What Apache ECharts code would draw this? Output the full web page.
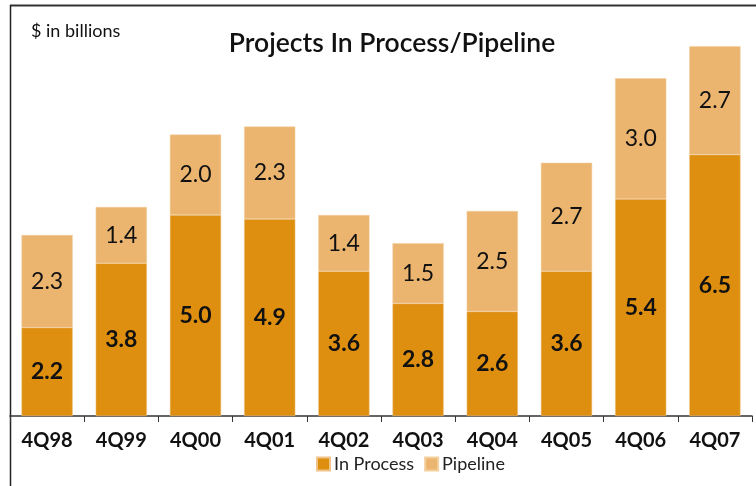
<!DOCTYPE html>
<html>
<head>
<meta charset="utf-8">
<script src="https://cdn.jsdelivr.net/npm/echarts@6/dist/echarts.min.js"></script>
<style>
  html, body { margin: 0; padding: 0; background: #fff; }
  #chart { width: 756px; height: 486px; }
</style>
</head>
<body>
<div id="chart"></div>
<script>
// Quarter labels along the x axis
const quarters = ['4Q98', '4Q99', '4Q00', '4Q01', '4Q02', '4Q03', '4Q04', '4Q05', '4Q06', '4Q07'];
// Projects in process, $ billions
const inProcess = [2.2, 3.8, 5.0, 4.9, 3.6, 2.8, 2.6, 3.6, 5.4, 6.5];
// Projects in pipeline, $ billions
const pipeline = [2.3, 1.4, 2.0, 2.3, 1.4, 1.5, 2.5, 2.7, 3.0, 2.7];

const FONT = 'Lato';
const chart = echarts.init(document.getElementById('chart'), null, { renderer: 'canvas' });

chart.setOption({
  animation: false,
  backgroundColor: '#ffffff',
  textStyle: { fontFamily: FONT },
  title: [
    {
      text: 'Projects In Process/Pipeline',
      left: 387, top: 25, textAlign: 'center',
      textStyle: { fontFamily: FONT, fontSize: 26.5, fontWeight: 600, color: '#111' }
    },
    {
      text: '$ in billions',
      left: 26, top: 17,
      textStyle: { fontFamily: FONT, fontSize: 18, fontWeight: 'normal', color: '#111' }
    }
  ],
  legend: {
    bottom: 8, left: 311,
    itemWidth: 13, itemHeight: 13, itemGap: 10,
    icon: 'rect',
    textStyle: { fontFamily: FONT, fontSize: 18, color: '#222', padding: [0, 0, 0, -1] },
    data: ['In Process', 'Pipeline']
  },
  grid: { left: 10, right: 4, top: 14, bottom: 70, containLabel: false },
  xAxis: {
    type: 'category',
    data: quarters,
    axisLine: { lineStyle: { color: '#333', width: 1.5 } },
    axisTick: { show: true, length: 6, lineStyle: { color: '#333' } },
    axisLabel: { fontFamily: FONT, fontSize: 20, fontWeight: 'bold', color: '#111', margin: 15 }
  },
  yAxis: {
    type: 'value', min: 0, max: 10,
    show: false,
    splitLine: { show: false }
  },
  series: [
    {
      name: 'In Process', type: 'bar', stack: 'total',
      data: inProcess,
      barCategoryGap: '31%',
      itemStyle: { color: '#DE8F10', borderColor: '#EFC48A', borderWidth: 0.5 },
      label: {
        show: true, position: 'inside',
        fontFamily: FONT, fontSize: 23, fontWeight: 'bold', color: '#111',
        formatter: p => p.value.toFixed(1)
      }
    },
    {
      name: 'Pipeline', type: 'bar', stack: 'total',
      data: pipeline,
      barCategoryGap: '31%',
      itemStyle: { color: '#EBB570', borderColor: '#F3CF9E', borderWidth: 0.5 },
      label: {
        show: true, position: 'inside',
        fontFamily: FONT, fontSize: 23, fontWeight: 'normal', color: '#111',
        formatter: p => p.value.toFixed(1)
      }
    }
  ],
  graphic: [
    { type: 'line', shape: { x1: 10, y1: 5.5, x2: 756, y2: 5.5 }, style: { stroke: '#333', lineWidth: 2 } },
    { type: 'line', shape: { x1: 10.5, y1: 5, x2: 10.5, y2: 486 }, style: { stroke: '#222', lineWidth: 1.5 } }
  ]
});
</script>
</body>
</html>
